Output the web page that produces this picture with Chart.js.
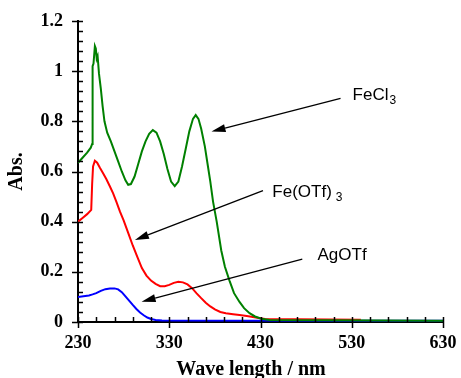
<!DOCTYPE html>
<html>
<head>
<meta charset="utf-8">
<script src="https://cdn.jsdelivr.net/npm/chart.js@4/dist/chart.umd.min.js"></script>
<style>
html,body{margin:0;padding:0;background:#fff;}
#wrap{width:461px;height:378px;position:relative;}
</style>
</head>
<body>
<div id="wrap"><canvas id="c" width="461" height="378"></canvas></div>
<script>
// ---- data (wavelength nm, absorbance) ----
const feCl3X = [230,235,240,244,245.5,246,247,248.5,249.5,250.5,251.5,253,255,257,259,262,266,270,274,278,282,285,288,292,296,300,304,308,312,316,320,324,328,332,336,340,344,348,352,356,359,362,365,369,372,375,378,382,387,391,396,401,407,412,418,424,431,440,630];
const feCl3Y = [0.635,0.655,0.675,0.695,0.71,1.02,1.03,1.10,1.09,1.05,1.06,0.99,0.93,0.86,0.80,0.755,0.72,0.68,0.64,0.60,0.565,0.547,0.55,0.58,0.63,0.68,0.72,0.75,0.765,0.755,0.72,0.67,0.61,0.56,0.542,0.56,0.62,0.69,0.76,0.81,0.825,0.81,0.77,0.70,0.63,0.56,0.48,0.40,0.285,0.22,0.165,0.115,0.08,0.055,0.035,0.022,0.013,0.008,0.005];

const feOTfX = [230,235,240,244.5,245.5,246.5,248.5,251,254,257.5,261,265,268.5,272,276,280,285,290,295,300,305,310,315,320,325,330,335,340,345,350,355,360,365,370,375,380,386,392,400,407,415,420,428,435,540];
const feOTfY = [0.40,0.415,0.43,0.447,0.55,0.62,0.643,0.635,0.615,0.593,0.57,0.54,0.513,0.48,0.44,0.405,0.355,0.305,0.26,0.215,0.185,0.165,0.152,0.143,0.143,0.148,0.156,0.16,0.158,0.15,0.135,0.114,0.095,0.077,0.062,0.05,0.04,0.035,0.031,0.028,0.024,0.021,0.016,0.012,0.009];

const agOTfX = [230,234,238,242,246,250,255,260,265,270,274,278,282,286,290,294,298,302,306,310,315,322,630];
const agOTfY = [0.10,0.102,0.104,0.106,0.11,0.115,0.124,0.131,0.134,0.134,0.13,0.119,0.102,0.085,0.068,0.052,0.038,0.027,0.018,0.012,0.008,0.006,0.005];

const xTickLabels = ['230','330','430','530','630'];
const yTickLabels = ['0','0.2','0.4','0.6','0.8','1','1.2'];

// annotation labels (data coordinates)
const labelText = ['FeCl', 'Fe(OTf)', 'AgOTf'];
const labelSub  = ['3', '3', ''];
const labelPos  = [[530.9,0.885],[443,0.498],[492.5,0.247]];
const arrowFrom = [[517.7,0.892],[432.7,0.524],[475.8,0.251]];
const arrowTip  = [[376.3,0.759],[292.4,0.327],[299.7,0.081]];

const toPts = (xs, ys) => xs.map((x,i)=>({x:x, y:ys[i]}));

const serif = '"Liberation Serif","Times New Roman",serif';
const sans = '"Liberation Sans",Arial,sans-serif';

const decor = {
  id:'decor',
  afterDatasetsDraw(chart){
    const {ctx, scales:{x,y}, chartArea:a} = chart;
    ctx.save();
    // tick marks
    ctx.strokeStyle = '#000';
    ctx.lineWidth = 1.5;
    ctx.beginPath();
    for (let v=0; v<=1.2001; v+=0.04){
      const py = Math.round(y.getPixelForValue(v))+0.5;
      const major = Math.abs(v/0.2 - Math.round(v/0.2)) < 1e-6;
      ctx.moveTo(a.left - (major?6:0), py);
      ctx.lineTo(a.left + 5, py);
    }
    for (let v=230; v<=630; v+=20){
      const px = Math.round(x.getPixelForValue(v))+0.5;
      const major = (v-230)%100===0;
      ctx.moveTo(px, a.bottom + (major?6:0));
      ctx.lineTo(px, a.bottom - 5);
    }
    ctx.stroke();
    // arrows
    ctx.lineWidth = 1.3;
    ctx.fillStyle = '#000';
    for (let i=0;i<arrowFrom.length;i++){
      const x1 = x.getPixelForValue(arrowFrom[i][0]), y1 = y.getPixelForValue(arrowFrom[i][1]);
      const x2 = x.getPixelForValue(arrowTip[i][0]), y2 = y.getPixelForValue(arrowTip[i][1]);
      const ang = Math.atan2(y2-y1, x2-x1);
      const L = 14, W = 4;
      const bx = x2 - L*Math.cos(ang), by = y2 - L*Math.sin(ang);
      ctx.beginPath();
      ctx.moveTo(x1,y1); ctx.lineTo(bx,by); ctx.stroke();
      ctx.beginPath();
      ctx.moveTo(x2,y2);
      ctx.lineTo(bx + W*Math.sin(ang), by - W*Math.cos(ang));
      ctx.lineTo(bx - W*Math.sin(ang), by + W*Math.cos(ang));
      ctx.closePath(); ctx.fill();
    }
    // labels
    ctx.textBaseline = 'alphabetic';
    ctx.textAlign = 'left';
    for (let i=0;i<labelText.length;i++){
      const px = x.getPixelForValue(labelPos[i][0]), py = y.getPixelForValue(labelPos[i][1]);
      ctx.font = '17px ' + sans;
      ctx.fillText(labelText[i], px, py);
      const w = ctx.measureText(labelText[i]).width;
      if (labelSub[i]){
        ctx.font = '12px ' + sans;
        ctx.fillText(labelSub[i], px + w + (i===1?4:1), py + 4);
      }
    }
    // axis titles
    ctx.font = 'bold 20px ' + serif;
    ctx.textAlign = 'center';
    ctx.fillText('Wave length / nm', 251, 375);
    ctx.translate(17, (a.top+a.bottom)/2);
    ctx.rotate(-Math.PI/2);
    ctx.textBaseline = 'middle';
    ctx.fillText('Abs.', 0, 0);
    ctx.restore();
  }
};

new Chart(document.getElementById('c'), {
  type:'line',
  data:{
    datasets:[
      {label:'FeCl3', data: toPts(feCl3X, feCl3Y), borderColor:'#008000', borderWidth:2, pointRadius:0, fill:false, tension:0},
      {label:'Fe(OTf)3', data: toPts(feOTfX, feOTfY), borderColor:'#ff0000', borderWidth:2, pointRadius:0, fill:false, tension:0},
      {label:'AgOTf', data: toPts(agOTfX, agOTfY), borderColor:'#0000ff', borderWidth:2, pointRadius:0, fill:false, tension:0}
    ]
  },
  options:{
    responsive:false,
    animation:false,
    events:[],
    layout:{padding:{left:0,right:18,top:21,bottom:0}},
    plugins:{legend:{display:false}, tooltip:{enabled:false}},
    scales:{
      x:{
        type:'linear', min:230, max:630,
        afterFit(s){ s.height = 56; s.paddingLeft = 0; s.paddingRight = 0; },
        grid:{display:true, drawOnChartArea:false, drawTicks:false, color:'rgba(0,0,0,0)'},
        border:{display:true, color:'#000', width:2},
        ticks:{stepSize:100, padding:11, color:'#000', font:{family:serif, size:18, weight:'bold'},
          callback:(v)=>{ const i = Math.round((v-230)/100); return xTickLabels[i]; }}
      },
      y:{
        type:'linear', min:0, max:1.2,
        afterFit(s){ s.width = 78; s.paddingTop = 0; s.paddingBottom = 0; },
        grid:{display:true, drawOnChartArea:false, drawTicks:false, color:'rgba(0,0,0,0)'},
        border:{display:true, color:'#000', width:2},
        ticks:{stepSize:0.2, padding:15, color:'#000', font:{family:serif, size:18, weight:'bold'},
          callback:(v)=>{ const i = Math.round(v/0.2); return yTickLabels[i]; }}
      }
    }
  },
  plugins:[decor]
});
</script>
</body>
</html>
